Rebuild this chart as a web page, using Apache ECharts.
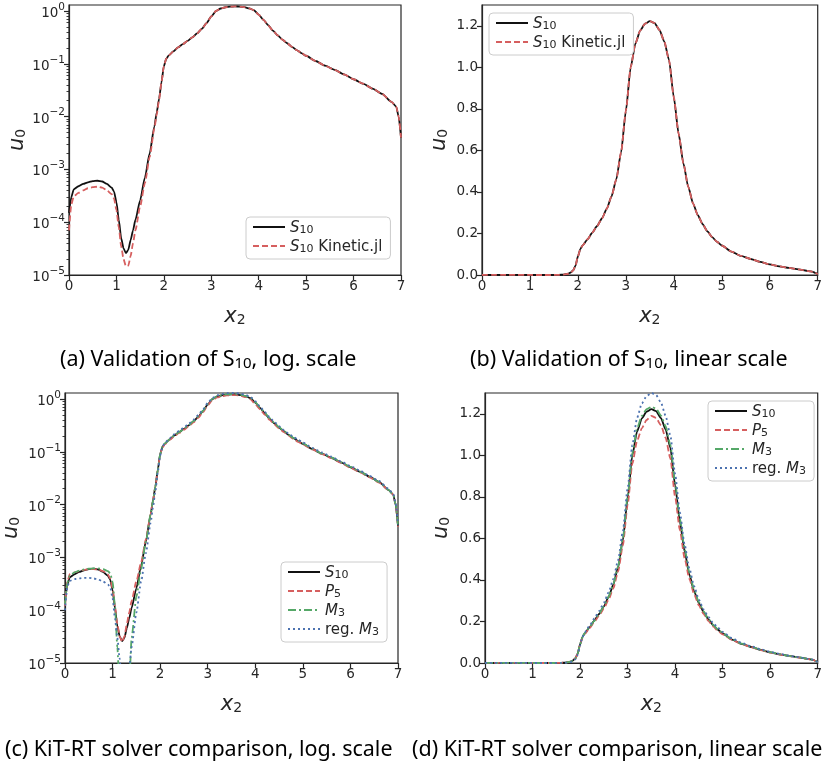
<!DOCTYPE html>
<html lang="en">
<head>
<meta charset="UTF-8">
<title>u0 along x2</title>
<script src="https://cdn.jsdelivr.net/npm/echarts@6/dist/echarts.min.js"></script>
<style>
    html, body { margin: 0; padding: 0; background: #fff; }
    #main { width: 825px; height: 767px; }
</style>
</head>
<body>
<div id="main"></div>
<script>
    // sample positions along x2
    var x2 = [0, 0.05, 0.1, 0.2, 0.3, 0.4, 0.5, 0.6, 0.7, 0.8, 0.9,
        0.95, 1.0, 1.05, 1.1, 1.15, 1.2, 1.25, 1.3, 1.35, 1.4,
        1.5, 1.6, 1.7, 1.8, 1.85, 1.9, 1.95, 2.0, 2.05, 2.1,
        2.2, 2.3, 2.4, 2.5, 2.6, 2.7, 2.8, 2.9, 3.0,
        3.1, 3.2, 3.3, 3.4, 3.5, 3.6, 3.7, 3.8, 3.9, 4.0,
        4.1, 4.2, 4.3, 4.4, 4.5, 4.6, 4.7, 4.8, 4.9, 5.0,
        5.2, 5.4, 5.6, 5.8, 6.0, 6.2, 6.4, 6.6, 6.8,
        6.9, 6.95, 7.0];

    var s10 = [1.5e-4, 3.0e-4, 4.2e-4, 4.8e-4, 5.3e-4, 5.7e-4, 6.0e-4, 6.1e-4, 5.9e-4, 5.3e-4, 4.5e-4,
        3.8e-4, 2.4e-4, 1.1e-4, 5.0e-5, 3.2e-5, 2.6e-5, 3.0e-5, 4.6e-5, 7.0e-5, 1.1e-4,
        2.6e-4, 7.0e-4, 2.0e-3, 6.5e-3, 0.012, 0.022, 0.045, 0.09, 0.125, 0.143,
        0.172, 0.204, 0.236, 0.272, 0.318, 0.378, 0.46, 0.59, 0.79,
        1.0, 1.115, 1.178, 1.21, 1.222, 1.213, 1.18, 1.125, 1.035, 0.855,
        0.68, 0.537, 0.425, 0.345, 0.288, 0.245, 0.21, 0.182, 0.16, 0.142,
        0.113, 0.092, 0.077, 0.063, 0.051, 0.042, 0.034, 0.027, 0.019,
        0.0155, 0.01, 0.004];

    var s10Kinetic = [7.0e-5, 2.2e-4, 3.1e-4, 3.6e-4, 4.0e-4, 4.4e-4, 4.6e-4, 4.7e-4, 4.5e-4, 4.0e-4, 3.4e-4,
        2.8e-4, 1.7e-4, 8.0e-5, 3.5e-5, 2.0e-5, 1.45e-5, 1.5e-5, 2.3e-5, 4.0e-5, 7.0e-5,
        2.0e-4, 5.5e-4, 1.7e-3, 6.0e-3, 0.011, 0.021, 0.045, 0.09, 0.125, 0.143,
        0.172, 0.204, 0.236, 0.272, 0.318, 0.378, 0.46, 0.59, 0.79,
        1.0, 1.115, 1.178, 1.21, 1.222, 1.213, 1.18, 1.125, 1.035, 0.855,
        0.68, 0.537, 0.425, 0.345, 0.288, 0.245, 0.21, 0.182, 0.16, 0.142,
        0.113, 0.092, 0.077, 0.063, 0.051, 0.042, 0.034, 0.027, 0.019,
        0.0155, 0.01, 0.004];

    var p5 = [1.2e-4, 3.5e-4, 4.8e-4, 5.2e-4, 5.5e-4, 5.8e-4, 6.0e-4, 6.0e-4, 5.9e-4, 5.5e-4, 4.8e-4,
        4.0e-4, 2.6e-4, 1.2e-4, 5.5e-5, 3.2e-5, 2.5e-5, 3.2e-5, 5.5e-5, 9.0e-5, 1.5e-4,
        3.5e-4, 8.0e-4, 2.2e-3, 6.5e-3, 0.012, 0.022, 0.045, 0.09, 0.122, 0.14,
        0.168, 0.198, 0.228, 0.262, 0.305, 0.36, 0.44, 0.565, 0.76,
        0.96, 1.07, 1.13, 1.17, 1.19, 1.18, 1.145, 1.085, 0.985, 0.8,
        0.64, 0.505, 0.405, 0.332, 0.278, 0.236, 0.203, 0.176, 0.155, 0.138,
        0.111, 0.091, 0.076, 0.062, 0.05, 0.041, 0.033, 0.026, 0.019,
        0.0155, 0.01, 0.0038];

    var m3 = [1.3e-4, 3.3e-4, 4.5e-4, 5.2e-4, 5.6e-4, 5.9e-4, 6.1e-4, 6.2e-4, 6.2e-4, 6.0e-4, 5.5e-4,
        5.0e-4, 3.5e-4, 1.2e-4, 2.0e-5, 3e-6, 2e-6, 2e-6, 2e-6, 4e-6, 3.0e-5,
        1.8e-4, 6.0e-4, 2.0e-3, 6.5e-3, 0.012, 0.022, 0.045, 0.09, 0.125, 0.145,
        0.172, 0.203, 0.236, 0.273, 0.318, 0.38, 0.465, 0.6, 0.8,
        1.01, 1.13, 1.19, 1.222, 1.233, 1.225, 1.192, 1.14, 1.05, 0.87,
        0.695, 0.55, 0.435, 0.352, 0.293, 0.248, 0.212, 0.184, 0.162, 0.144,
        0.114, 0.093, 0.078, 0.064, 0.052, 0.042, 0.034, 0.027, 0.019,
        0.0155, 0.01, 0.004];

    var regM3 = [1.0e-4, 2.8e-4, 3.6e-4, 3.9e-4, 4.0e-4, 4.1e-4, 4.1e-4, 4.0e-4, 3.8e-4, 3.5e-4, 3.1e-4,
        2.7e-4, 1.7e-4, 7.0e-5, 3.0e-5, 1.2e-5, 3e-6, 2e-6, 3e-6, 8e-6, 2.0e-5,
        9.0e-5, 3.5e-4, 1.2e-3, 4.5e-3, 0.009, 0.018, 0.04, 0.085, 0.125, 0.148,
        0.18, 0.215, 0.25, 0.29, 0.34, 0.405, 0.495, 0.635, 0.84,
        1.05, 1.18, 1.25, 1.285, 1.3, 1.29, 1.255, 1.19, 1.095, 0.91,
        0.725, 0.57, 0.455, 0.37, 0.305, 0.258, 0.222, 0.193, 0.17, 0.15,
        0.119, 0.097, 0.081, 0.066, 0.054, 0.044, 0.035, 0.028, 0.02,
        0.016, 0.0105, 0.0042];

    // tick values
    var logTicks = [1e-5, 1e-4, 1e-3, 1e-2, 1e-1, 1];
    var linTicks = [0, 0.2, 0.4, 0.6, 0.8, 1.0, 1.2];
    var captions = [
        '{t|(a) Validation of S}{s|10}{t|, log. scale}',
        '{t|(b) Validation of S}{s|10}{t|, linear scale}',
        '{t|(c) KiT-RT solver comparison, log. scale}',
        '{t|(d) KiT-RT solver comparison, linear scale}'
    ];

    var minorTicks = [];
    for (var d = -5; d < 0; d++) {
        for (var m = 2; m <= 9; m++) minorTicks.push(m * Math.pow(10, d));
    }

    var ink = '#262626';
    var names = {
        'S10': '{i|S}{s|10}',
        'S10 Kinetic.jl': '{i|S}{s|10}{n| Kinetic.jl}',
        'P5': '{i|P}{s|5}',
        'M3': '{i|M}{s|3}',
        'reg. M3': '{n|reg. }{i|M}{s|3}'
    };
    var styles = {
        'S10': {color: '#111111', type: 'solid'},
        'S10 Kinetic.jl': {color: '#d65f5f', type: [6, 3]},
        'P5': {color: '#d65f5f', type: [6, 3]},
        'M3': {color: '#55a868', type: [8, 3, 2, 3]},
        'reg. M3': {color: '#4c72b0', type: [2, 3]}
    };

    function pairs(ys) {
        return x2.map(function (x, i) { return [x, ys[i]]; });
    }

    var subRich = {
        i: {fontFamily: 'DejaVu Sans', fontStyle: 'italic', fontSize: 21, color: ink, lineHeight: 26, verticalAlign: 'bottom'},
        s: {fontFamily: 'DejaVu Sans', fontSize: 14, color: ink, lineHeight: 12, verticalAlign: 'bottom'}
    };

    function xAxis(g) {
        return {
            type: 'value', gridIndex: g, min: 0, max: 7, interval: 1,
            name: '{i|x}{s|2}', nameLocation: 'middle', nameGap: 26,
            nameTextStyle: {rich: subRich},
            axisLine: {show: true, lineStyle: {color: ink, width: 1.2}},
            axisTick: {show: true, length: 5, lineStyle: {color: ink, width: 1.2}},
            axisLabel: {color: ink, fontSize: 13.5, fontFamily: 'DejaVu Sans', margin: 4},
            splitLine: {show: false}
        };
    }

    function yLog(g, gap) {
        return {
            type: 'log', logBase: 10, gridIndex: g, min: 1e-5, max: 1.3,
            name: '{i|u}{s|0}', nameLocation: 'middle', nameGap: gap,
            nameTextStyle: {rich: subRich},
            axisLine: {show: true, lineStyle: {color: ink, width: 1.2}},
            axisTick: {show: true, length: 5, customValues: logTicks, lineStyle: {color: ink, width: 1.2}},
            axisLabel: {
                customValues: logTicks, margin: 4,
                formatter: function (v) {
                    var e = Math.round(Math.log(v) / Math.LN10);
                    return '{b|10}{e|' + (e < 0 ? '\u2212' + (-e) : e) + '}';
                },
                rich: {
                    b: {fontFamily: 'DejaVu Sans', fontSize: 13.5, color: ink, lineHeight: 19, verticalAlign: 'bottom'},
                    e: {fontFamily: 'DejaVu Sans', fontSize: 10.5, color: ink, lineHeight: 11, verticalAlign: 'top'}
                }
            },
            splitLine: {show: false}
        };
    }

    function yMinor(g) {
        return {
            type: 'log', logBase: 10, gridIndex: g, min: 1e-5, max: 1.3, position: 'left',
            axisLine: {show: false},
            axisTick: {show: true, length: 2.5, customValues: minorTicks, lineStyle: {color: ink, width: 0.9}},
            axisLabel: {show: false},
            splitLine: {show: false}
        };
    }

    function yLin(g, gap) {
        return {
            type: 'value', gridIndex: g, min: 0, max: 1.3,
            name: '{i|u}{s|0}', nameLocation: 'middle', nameGap: gap,
            nameTextStyle: {rich: subRich},
            axisLine: {show: true, lineStyle: {color: ink, width: 1.2}},
            axisTick: {show: true, length: 5, customValues: linTicks, lineStyle: {color: ink, width: 1.2}},
            axisLabel: {
                customValues: linTicks, color: ink, fontSize: 13.5, fontFamily: 'DejaVu Sans', margin: 4,
                formatter: function (v) { return v.toFixed(1); }
            },
            splitLine: {show: false}
        };
    }

    function line(name, ys, xi, yi) {
        var st = styles[name];
        return {
            name: name, type: 'line', xAxisIndex: xi, yAxisIndex: yi,
            data: pairs(ys), symbol: 'none', smooth: 0.2, smoothMonotone: 'x',
            clip: true, silent: true,
            lineStyle: {color: st.color, width: 1.8, type: st.type},
            itemStyle: {color: st.color}
        };
    }

    function legend(list, left, top) {
        return {
            data: list, orient: 'vertical', left: left, top: top,
            itemWidth: 32, itemHeight: 14, itemGap: 4, itemTextGap: 11,
            padding: [4, 8, 4, 6], backgroundColor: '#fff',
            borderColor: '#cccccc', borderWidth: 1, borderRadius: 4,
            selectedMode: false,
            itemStyle: {opacity: 0},
            formatter: function (n) { return names[n]; },
            textStyle: {
                rich: {
                    i: {fontFamily: 'DejaVu Sans', fontStyle: 'italic', fontSize: 15, color: ink, lineHeight: 18, verticalAlign: 'bottom'},
                    n: {fontFamily: 'DejaVu Sans', fontSize: 15, color: ink, lineHeight: 18, verticalAlign: 'bottom'},
                    s: {fontFamily: 'DejaVu Sans', fontSize: 11, color: ink, lineHeight: 9, verticalAlign: 'bottom'}
                }
            }
        };
    }

    var capRich = {
        t: {fontFamily: 'Noto Sans', fontSize: 21.5, fill: '#000', color: '#000', lineHeight: 26, verticalAlign: 'bottom'},
        s: {fontFamily: 'Noto Sans', fontSize: 15, fill: '#000', color: '#000', lineHeight: 16, verticalAlign: 'bottom'}
    };

    var chart = echarts.init(document.getElementById('main'), null, {renderer: 'canvas'});
    var frame = {show: true, borderColor: ink, borderWidth: 1.2, backgroundColor: 'transparent'};
    var option = {
        animation: false,
        grid: [
            Object.assign({left: 69, top: 5, width: 332, height: 270}, frame),
            Object.assign({left: 482, top: 5, width: 340, height: 270}, frame),
            Object.assign({left: 65, top: 393, width: 333, height: 270}, frame),
            Object.assign({left: 485, top: 393, width: 339, height: 270}, frame)
        ],
        xAxis: [xAxis(0), xAxis(1), xAxis(2), xAxis(3)],
        yAxis: [yLog(0, 41), yMinor(0), yLin(1, 32), yLog(2, 43), yMinor(2), yLin(3, 33)],
        legend: [
            legend(['S10', 'S10 Kinetic.jl'], 246, 217),
            legend(['S10', 'S10 Kinetic.jl'], 489, 13),
            legend(['S10', 'P5', 'M3', 'reg. M3'], 281, 562),
            legend(['S10', 'P5', 'M3', 'reg. M3'], 708, 401)
        ],
        series: [
            line('S10', s10, 0, 0),
            line('S10 Kinetic.jl', s10Kinetic, 0, 0),
            line('S10', s10, 1, 2),
            line('S10 Kinetic.jl', s10Kinetic, 1, 2),
            line('S10', s10, 2, 3),
            line('P5', p5, 2, 3),
            line('M3', m3, 2, 3),
            line('reg. M3', regM3, 2, 3),
            line('S10', s10, 3, 5),
            line('P5', p5, 3, 5),
            line('M3', m3, 3, 5),
            line('reg. M3', regM3, 3, 5)
        ],
        graphic: [
            {type: 'text', left: 60, top: 349, style: {text: captions[0], rich: capRich}},
            {type: 'text', left: 470, top: 349, style: {text: captions[1], rich: capRich}},
            {type: 'text', left: 5, top: 739, style: {text: captions[2], rich: capRich}},
            {type: 'text', left: 412, top: 739, style: {text: captions[3], rich: capRich}}
        ]
    };
    chart.setOption(option);
</script>
</body>
</html>
